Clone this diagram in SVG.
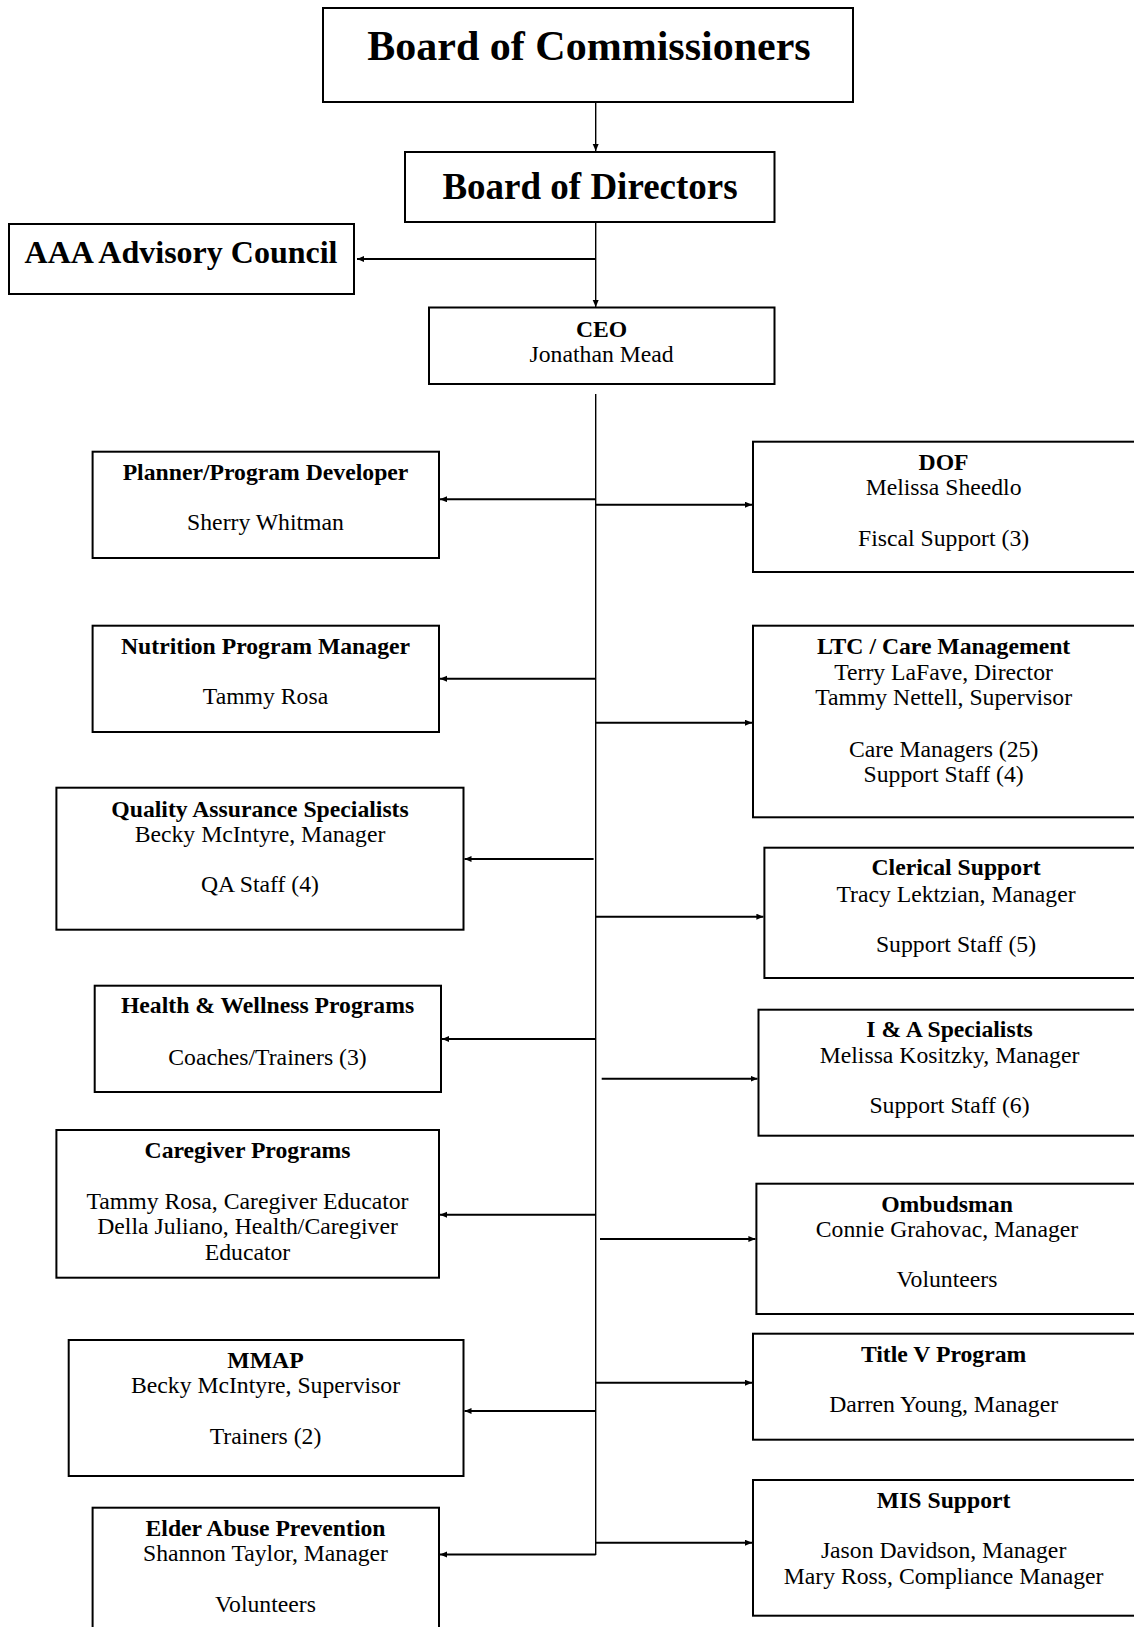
<svg xmlns="http://www.w3.org/2000/svg" width="1134" height="1627" viewBox="0 0 1134 1627">
<defs>
<style>
.box{fill:#fff;stroke:#000;stroke-width:2}
text{font-family:"Liberation Serif","Times New Roman",serif;fill:#000;text-anchor:middle}
.b{font-weight:bold}
.t{font-size:23.7px}
.c{stroke:#000;stroke-width:2;fill:none}
.v{stroke:#000;stroke-width:1.4;fill:none}
</style>
<marker id="ah" markerUnits="userSpaceOnUse" markerWidth="8" markerHeight="7" refX="7" refY="3" orient="auto">
<path d="M0,0 L7,3 L0,6 z" fill="#000"/>
</marker>
</defs>
<rect width="1134" height="1627" fill="#fff"/>
<g id="connectors">
<line class="v" x1="595.7" y1="102" x2="595.7" y2="151" marker-end="url(#ah)"/>
<line class="v" x1="595.7" y1="222" x2="595.7" y2="307" marker-end="url(#ah)"/>
<line class="c" x1="595.7" y1="259" x2="357" y2="259" marker-end="url(#ah)"/>
<line class="v" x1="595.7" y1="394" x2="595.7" y2="1555"/>
<line class="c" x1="595.7" y1="499.3" x2="440" y2="499.3" marker-end="url(#ah)"/>
<line class="c" x1="595.7" y1="504.7" x2="752" y2="504.7" marker-end="url(#ah)"/>
<line class="c" x1="595.7" y1="678.7" x2="440" y2="678.7" marker-end="url(#ah)"/>
<line class="c" x1="595.7" y1="722.7" x2="752" y2="722.7" marker-end="url(#ah)"/>
<line class="c" x1="593.6" y1="859" x2="464.5" y2="859" marker-end="url(#ah)"/>
<line class="c" x1="595.7" y1="916.7" x2="763.4" y2="916.7" marker-end="url(#ah)"/>
<line class="c" x1="595.7" y1="1039" x2="442" y2="1039" marker-end="url(#ah)"/>
<line class="c" x1="601.7" y1="1078.7" x2="757.5" y2="1078.7" marker-end="url(#ah)"/>
<line class="c" x1="595.7" y1="1214.7" x2="440" y2="1214.7" marker-end="url(#ah)"/>
<line class="c" x1="600" y1="1239" x2="755.4" y2="1239" marker-end="url(#ah)"/>
<line class="c" x1="595.7" y1="1382.7" x2="752" y2="1382.7" marker-end="url(#ah)"/>
<line class="c" x1="595.7" y1="1411" x2="464.5" y2="1411" marker-end="url(#ah)"/>
<line class="c" x1="595.7" y1="1542.7" x2="752" y2="1542.7" marker-end="url(#ah)"/>
<line class="c" x1="595.7" y1="1554.5" x2="440" y2="1554.5" marker-end="url(#ah)"/>
</g>
<g id="board-commissioners">
<rect class="box" x="323" y="8" width="530" height="94"/>
<text class="b" x="589" y="60" font-size="42">Board of Commissioners</text>
</g>
<g id="board-directors">
<rect class="box" x="405" y="152" width="369.5" height="70"/>
<text class="b" x="590" y="199" font-size="37">Board of Directors</text>
</g>
<g id="aaa-advisory">
<rect class="box" x="9" y="224" width="345" height="70"/>
<text class="b" x="181" y="263" font-size="32">AAA Advisory Council</text>
</g>
<g id="ceo">
<rect class="box" x="429" y="307.5" width="345.5" height="76.5"/>
<text class="b t" x="601.6" y="336.7">CEO</text>
<text class="t" x="601.6" y="361.7">Jonathan Mead</text>
</g>
<g id="planner">
<rect class="box" x="92.6" y="451.7" width="346.4" height="106.3"/>
<text class="b t" x="265.5" y="480">Planner/Program Developer</text>
<text class="t" x="265.5" y="530">Sherry Whitman</text>
</g>
<g id="dof">
<rect class="box" x="753" y="441.7" width="400" height="130.3"/>
<text class="b t" x="943.6" y="470">DOF</text>
<text class="t" x="943.6" y="495">Melissa Sheedlo</text>
<text class="t" x="943.6" y="545.7">Fiscal Support (3)</text>
</g>
<g id="nutrition">
<rect class="box" x="92.6" y="625.7" width="346.4" height="106.3"/>
<text class="b t" x="265.5" y="654">Nutrition Program Manager</text>
<text class="t" x="265.5" y="704">Tammy Rosa</text>
</g>
<g id="ltc">
<rect class="box" x="753" y="625.7" width="400" height="191.6"/>
<text class="b t" x="943.6" y="654.3">LTC / Care Management</text>
<text class="t" x="943.6" y="680">Terry LaFave, Director</text>
<text class="t" x="943.6" y="705">Tammy Nettell, Supervisor</text>
<text class="t" x="943.6" y="756.7">Care Managers (25)</text>
<text class="t" x="943.6" y="781.7">Support Staff (4)</text>
</g>
<g id="qa">
<rect class="box" x="56.4" y="787.7" width="407.1" height="142"/>
<text class="b t" x="260" y="816.7">Quality Assurance Specialists</text>
<text class="t" x="260" y="841.7">Becky McIntyre, Manager</text>
<text class="t" x="260" y="891.7">QA Staff (4)</text>
</g>
<g id="clerical">
<rect class="box" x="764.4" y="847.7" width="400" height="130.3"/>
<text class="b t" x="956" y="875">Clerical Support</text>
<text class="t" x="956" y="901.7">Tracy Lektzian, Manager</text>
<text class="t" x="956" y="951.7">Support Staff (5)</text>
</g>
<g id="health">
<rect class="box" x="94.7" y="985.7" width="346.3" height="106.3"/>
<text class="b t" x="267.5" y="1013.3">Health &amp; Wellness Programs</text>
<text class="t" x="267.5" y="1065">Coaches/Trainers (3)</text>
</g>
<g id="ia">
<rect class="box" x="758.5" y="1009.7" width="400" height="126"/>
<text class="b t" x="949.5" y="1037.3">I &amp; A Specialists</text>
<text class="t" x="949.5" y="1063.3">Melissa Kositzky, Manager</text>
<text class="t" x="949.5" y="1113.3">Support Staff (6)</text>
</g>
<g id="caregiver">
<rect class="box" x="56.4" y="1130" width="382.6" height="147.7"/>
<text class="b t" x="247.5" y="1158.3">Caregiver Programs</text>
<text class="t" x="247.5" y="1209.3">Tammy Rosa, Caregiver Educator</text>
<text class="t" x="247.5" y="1234.3">Della Juliano, Health/Caregiver</text>
<text class="t" x="247.5" y="1260">Educator</text>
</g>
<g id="ombudsman">
<rect class="box" x="756.4" y="1183.7" width="400" height="130.3"/>
<text class="b t" x="947" y="1212">Ombudsman</text>
<text class="t" x="947" y="1236.7">Connie Grahovac, Manager</text>
<text class="t" x="947" y="1287.3">Volunteers</text>
</g>
<g id="mmap">
<rect class="box" x="68.7" y="1340" width="394.8" height="136"/>
<text class="b t" x="265.5" y="1368.3">MMAP</text>
<text class="t" x="265.5" y="1393.3">Becky McIntyre, Supervisor</text>
<text class="t" x="265.5" y="1444.3">Trainers (2)</text>
</g>
<g id="title-v">
<rect class="box" x="753" y="1333.7" width="400" height="106"/>
<text class="b t" x="943.6" y="1362.3">Title V Program</text>
<text class="t" x="943.6" y="1412.3">Darren Young, Manager</text>
</g>
<g id="mis">
<rect class="box" x="753" y="1480" width="400" height="135.7"/>
<text class="b t" x="943.6" y="1508.3">MIS Support</text>
<text class="t" x="943.6" y="1558.3">Jason Davidson, Manager</text>
<text class="t" x="943.6" y="1584">Mary Ross, Compliance Manager</text>
</g>
<g id="elder">
<rect class="box" x="92.6" y="1507.7" width="346.4" height="200"/>
<text class="b t" x="265.5" y="1535.7">Elder Abuse Prevention</text>
<text class="t" x="265.5" y="1561">Shannon Taylor, Manager</text>
<text class="t" x="265.5" y="1611.7">Volunteers</text>
</g>
</svg>
